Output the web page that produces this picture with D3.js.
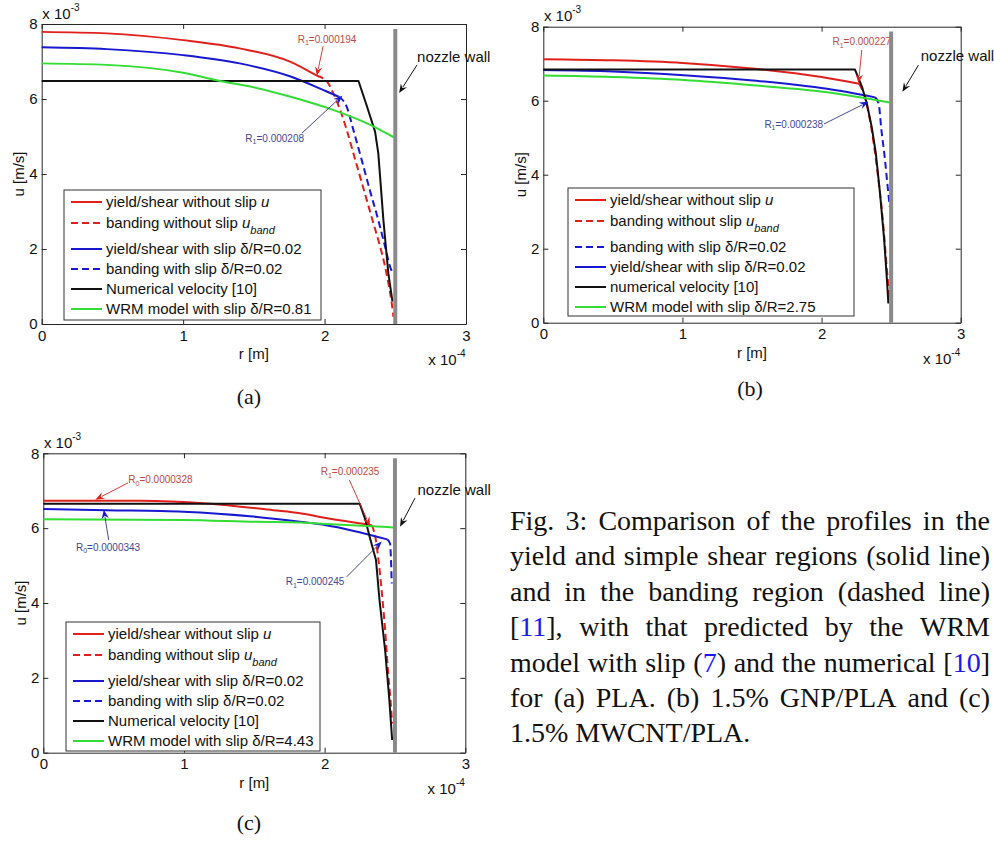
<!DOCTYPE html>
<html><head><meta charset="utf-8">
<script src="https://cdn.jsdelivr.net/npm/d3@7"></script>
<style>body{margin:0;background:#fff}svg{display:block}</style>
</head><body>
<svg id="fig" width="994" height="841"></svg>
<script>
// ---------------- DATA (r in 1e-4 m, u in 1e-3 m/s) ----------------
const xTicks = [0, 1, 2, 3];
const yTicks = [0, 2, 4, 6, 8];
const wallR = 2.5, wallTop = 7.87;

// Panel (a) PLA
const a_yieldNoSlip = [[0,7.79],[0.46,7.75],[1.0,7.57],[1.4,7.35],[1.76,6.99],[1.945,6.62]];
const a_bandNoSlip  = [[1.945,6.62],[2.02,6.45],[2.062,6.15],[2.11,5.71],[2.157,5.17],[2.204,4.55],[2.251,3.93],[2.298,3.31],[2.345,2.69],[2.393,2.06],[2.428,1.53],[2.451,1.09],[2.475,0.55],[2.487,0.19]];
const a_yieldSlip   = [[0,7.38],[0.46,7.33],[1.0,7.17],[1.4,6.95],[1.76,6.60],[2.015,6.20],[2.10,6.06]];
const a_bandSlip    = [[2.10,6.06],[2.157,5.79],[2.204,5.17],[2.263,4.37],[2.32,3.57],[2.38,2.77],[2.428,2.06],[2.463,1.53],[2.482,1.35]];
const a_numerical   = [[0,6.48],[2.24,6.48],[2.30,5.80],[2.357,5.13],[2.38,4.55],[2.416,2.77],[2.451,1.35],[2.475,0.73],[2.48,0.6]];
const a_wrm         = [[0,6.95],[0.46,6.91],[1.0,6.70],[1.26,6.48],[1.5,6.31],[1.76,6.06],[2.06,5.71],[2.30,5.35],[2.49,4.98]];

// Panel (b) 1.5% GNP/PLA
const b_yieldNoSlip = [[0,7.12],[0.5,7.09],[1.0,7.02],[1.5,6.87],[2.0,6.64],[2.27,6.46]];
const b_bandNoSlip  = [[2.27,6.46],[2.31,6.11],[2.36,5.21],[2.40,4.13],[2.44,2.78],[2.47,1.42],[2.49,0.61]];
const b_bandSlip    = [[2.385,6.09],[2.41,5.93],[2.43,5.21],[2.456,4.40],[2.47,3.86],[2.49,3.14]];
const b_yieldSlip   = [[0,6.83],[0.5,6.79],[1.01,6.69],[1.53,6.54],[2.04,6.32],[2.385,6.09]];
const b_numerical   = [[0,6.84],[2.24,6.84],[2.29,6.38],[2.325,5.93],[2.36,5.30],[2.39,4.58],[2.42,3.50],[2.45,2.24],[2.47,1.15],[2.48,0.52]];
const b_wrm         = [[0,6.68],[0.5,6.64],[1.01,6.56],[1.53,6.41],[2.04,6.23],[2.49,5.95]];

// Panel (c) 1.5% MWCNT/PLA
const c_yieldNoSlip = [[0,6.73],[0.69,6.73],[1.16,6.66],[1.635,6.48],[1.825,6.40],[2.01,6.27],[2.335,6.08]];
const c_bandNoSlip  = [[2.335,6.08],[2.36,5.77],[2.38,5.24],[2.405,4.35],[2.43,3.28],[2.45,2.21],[2.47,1.32],[2.48,0.78]];
const c_yieldSlip   = [[0,6.51],[0.45,6.48],[0.995,6.44],[1.52,6.30],[1.825,6.17],[2.01,6.08],[2.445,5.70]];
const c_bandSlip    = [[2.445,5.70],[2.465,5.59],[2.477,4.52]];
const c_numerical   = [[0,6.65],[2.25,6.65],[2.29,6.22],[2.32,5.77],[2.365,5.15],[2.39,4.08],[2.43,2.74],[2.46,1.41],[2.48,0.34]];
const c_wrm         = [[0,6.24],[0.995,6.22],[1.52,6.17],[1.825,6.15],[2.01,6.11],[2.49,6.02]];

// Legend labels: [text, kind] kind: "" normal, "i" italic, "s" italic subscript
const lblYieldNoSlip = [["yield/shear without slip ",""],["u","i"]];
const lblBandNoSlip  = [["banding without slip ",""],["u","i"],["band","s"]];
const lblYieldSlip   = [["yield/shear with slip δ/R=0.02",""]];
const lblBandSlip    = [["banding with slip  δ/R=0.02",""]];
const lblBandSlipB   = [["banding with slip δ/R=0.02",""]];
const lblNumA        = [["Numerical velocity [10]",""]];
const lblNumB        = [["numerical velocity [10]",""]];
const lblWrmA        = [["WRM model with slip δ/R=0.81",""]];
const lblWrmB        = [["WRM model with slip δ/R=2.75",""]];
const lblWrmC        = [["WRM model with slip δ/R=4.43",""]];

// Annotations (data coords): label left/center, arrow tail, arrow tip
const a_notes = [
  {kind:"red",  sym:"R", sub:"1", val:"=0.000194",  lx:1.81, ly:7.59, tx:1.99, ty:7.41, hx:1.945, hy:6.62},
  {kind:"blue", sym:"R", sub:"1", val:"=0.000208",  lx:1.44, ly:4.96, tx:1.84, ty:5.09, hx:2.126, hy:6.09},
  {kind:"wall", text:"nozzle wall", lx:2.654, ly:7.12, tx:2.654, ty:6.91, hx:2.527, hy:6.16}
];
const b_notes = [
  {kind:"red",  sym:"R", sub:"1", val:"=0.000227",  lx:2.078, ly:7.59, tx:2.289, ty:7.37, hx:2.265, hy:6.47},
  {kind:"blue", sym:"R", sub:"1", val:"=0.000238",  lx:1.589, ly:5.37, tx:2.017, ty:5.37, hx:2.336, hy:5.97},
  {kind:"wall", text:"nozzle wall", lx:2.713, ly:7.21, tx:2.696, ty:6.96, hx:2.581, hy:6.24}
];
const c_notes = [
  {kind:"red",  sym:"R", sub:"0", val:"=0.0000328", lx:0.604, ly:7.29, tx:0.602, ty:7.21, hx:0.37, hy:6.76},
  {kind:"blue", sym:"R", sub:"0", val:"=0.0000343", lx:0.232, ly:5.49, tx:0.465, ty:5.68, hx:0.43, hy:6.49},
  {kind:"red",  sym:"R", sub:"1", val:"=0.000235",  lx:1.972, ly:7.51, tx:2.175, ty:7.29, hx:2.322, hy:6.06},
  {kind:"blue", sym:"R", sub:"1", val:"=0.000245",  lx:1.723, ly:4.57, tx:2.157, ty:4.70, hx:2.406, hy:5.64},
  {kind:"wall", text:"nozzle wall", lx:2.66, ly:7.02, tx:2.642, ty:6.80, hx:2.536, hy:6.04}
];

const captionLines = [
  "Fig. 3: Comparison of the profiles in the",
  "yield and simple shear regions (solid line)",
  "and in the banding region (dashed line)",
  "[{11}], with that predicted by the WRM",
  "model with slip ({7}) and the numerical [{10}]",
  "for (a) PLA. (b) 1.5% GNP/PLA and (c)",
  "1.5% MWCNT/PLA."
];

// ---------------- STYLES / LAYOUT ----------------
const RED = "#e0201c", BLUE = "#1818d0", GREEN = "#33dd33", BLACK = "#111";
const styles = {
  redSolid:{color:RED, dash:null}, redDash:{color:RED, dash:"7,4"},
  blueSolid:{color:BLUE, dash:null}, blueDash:{color:BLUE, dash:"7,4"},
  black:{color:BLACK, dash:null, linear:true}, green:{color:GREEN, dash:null}
};
const SANS = "'Liberation Sans', Arial, sans-serif";
const SERIF = "'Liberation Serif', 'Times New Roman', serif";

const panels = [
  {left:41.7, top:24, right:466, bottom:324, tag:"(a)", tagX:249, tagY:397,
   series:[["redSolid",a_yieldNoSlip,lblYieldNoSlip],["redDash",a_bandNoSlip,lblBandNoSlip],["blueSolid",a_yieldSlip,lblYieldSlip],["blueDash",a_bandSlip,lblBandSlip],["black",a_numerical,lblNumA],["green",a_wrm,lblWrmA]],
   notes:a_notes, legend:{x:64, y:190, w:257, h:130}},
  {left:543.3, top:26.7, right:960.7, bottom:322.7, tag:"(b)", tagX:750, tagY:389,
   series:[["redSolid",b_yieldNoSlip,lblYieldNoSlip],["redDash",b_bandNoSlip,lblBandNoSlip],["blueDash",b_bandSlip,lblBandSlipB],["blueSolid",b_yieldSlip,lblYieldSlip],["black",b_numerical,lblNumB],["green",b_wrm,lblWrmB]],
   notes:b_notes, legend:{x:568, y:188, w:286, h:128}},
  {left:43.3, top:453.3, right:465.3, bottom:752.7, tag:"(c)", tagX:249, tagY:823,
   series:[["redSolid",c_yieldNoSlip,lblYieldNoSlip],["redDash",c_bandNoSlip,lblBandNoSlip],["blueSolid",c_yieldSlip,lblYieldSlip],["blueDash",c_bandSlip,lblBandSlip],["black",c_numerical,lblNumA],["green",c_wrm,lblWrmC]],
   notes:c_notes, legend:{x:66, y:622, w:254, h:129}}
];
const legendOffsets = [12, 33, 59, 79, 99, 119];

const svg = d3.select("#fig");
svg.append("rect").attr("width",994).attr("height",841).attr("fill","#fff");

function arrow(g, x1, y1, x2, y2, lineColor, headColor, lw) {
  const dx = x2 - x1, dy = y2 - y1, L = Math.hypot(dx, dy);
  const ux = dx / L, uy = dy / L, hl = 9, hw = 3.6;
  const bx = x2 - ux*hl, by = y2 - uy*hl;
  g.append("line").attr("x1",x1).attr("y1",y1).attr("x2",bx+ux*2).attr("y2",by+uy*2)
    .attr("stroke",lineColor).attr("stroke-width",lw);
  g.append("path").attr("d",`M${x2},${y2}L${bx-uy*hw},${by+ux*hw}L${bx+ux*3},${by+uy*3}L${bx+uy*hw},${by-ux*hw}Z`)
    .attr("fill",headColor);
}

function drawPanel(p) {
  const g = svg.append("g");
  const x = d3.scaleLinear().domain([0,3]).range([p.left, p.right]);
  const y = d3.scaleLinear().domain([0,8]).range([p.bottom, p.top]);
  const fmt = d3.format("d");

  // axes (ticks inside, MATLAB style)
  const axB = g.append("g").attr("transform",`translate(0,${p.bottom})`)
    .call(d3.axisBottom(x).tickValues(xTicks).tickSizeInner(-5).tickSizeOuter(0).tickPadding(6).tickFormat(fmt));
  const axT = g.append("g").attr("transform",`translate(0,${p.top})`)
    .call(d3.axisTop(x).tickValues(xTicks).tickSizeInner(-5).tickSizeOuter(0).tickFormat(""));
  const axL = g.append("g").attr("transform",`translate(${p.left},0)`)
    .call(d3.axisLeft(y).tickValues(yTicks).tickSizeInner(-5).tickSizeOuter(0).tickPadding(4).tickFormat(fmt));
  const axR = g.append("g").attr("transform",`translate(${p.right},0)`)
    .call(d3.axisRight(y).tickValues(yTicks).tickSizeInner(-5).tickSizeOuter(0).tickFormat(""));
  [axB, axT, axL, axR].forEach(a => {
    a.select(".domain").attr("stroke","#262626");
    a.selectAll(".tick line").attr("stroke","#262626");
    a.selectAll(".tick text").attr("fill","#111").style("font-family",SANS).style("font-size","15px");
  });

  // multipliers
  const m1 = g.append("text").attr("x",p.left+0.6).attr("y",p.top-5.5)
    .style("font-family",SANS).style("font-size","15px").attr("fill","#111");
  m1.append("tspan").text("x 10");
  m1.append("tspan").attr("dy",-8).style("font-size","10px").text("-3");
  const m2 = g.append("text").attr("x",p.right-37.7).attr("y",p.bottom+41)
    .style("font-family",SANS).style("font-size","15px").attr("fill","#111");
  m2.append("tspan").text("x 10");
  m2.append("tspan").attr("dy",-8).style("font-size","10px").text("-4");

  // axis labels
  g.append("text").attr("x",(p.left+p.right)/2).attr("y",p.bottom+30).attr("dy","0.35em")
    .attr("text-anchor","middle").style("font-family",SANS).style("font-size","15px").attr("fill","#111").text("r [m]");
  g.append("text").attr("transform",`translate(${p.left-23},${(p.top+p.bottom)/2}) rotate(-90)`).attr("dy","0.35em")
    .attr("text-anchor","middle").style("font-family",SANS).style("font-size","15px").attr("fill","#111").text("u [m/s]");

  // curves
  p.series.forEach(([key, data]) => {
    const st = styles[key];
    const line = d3.line().x(d => x(d[0])).y(d => y(d[1]))
      .curve(st.linear ? d3.curveLinear : d3.curveMonotoneX);
    g.append("path").datum(data).attr("d",line).attr("fill","none")
      .attr("stroke",st.color).attr("stroke-width",2)
      .attr("stroke-dasharray",st.dash).attr("stroke-linejoin","round");
  });

  // annotations
  p.notes.forEach(n => {
    if (n.kind === "wall") {
      g.append("text").attr("x",x(n.lx)).attr("y",y(n.ly)+5.4)
        .style("font-family",SANS).style("font-size","15px").attr("fill","#111").text(n.text);
      arrow(g, x(n.tx), y(n.ty), x(n.hx), y(n.hy), "#111", "#111", 1);
    } else {
      const tc = n.kind === "red" ? "#c04a44" : "#45469a";
      const lc = n.kind === "red" ? "#d02a26" : "#34347e";
      const hc = n.kind === "red" ? RED : BLUE;
      arrow(g, x(n.tx), y(n.ty), x(n.hx), y(n.hy), lc, hc, 0.9);
      const t = g.append("text").attr("x",x(n.lx)).attr("y",y(n.ly)+3.5)
        .style("font-family",SANS).style("font-size","10px").attr("fill",tc);
      t.append("tspan").text(n.sym);
      t.append("tspan").attr("dy",2.5).style("font-size","7px").text(n.sub);
      t.append("tspan").attr("dy",-2.5).text(n.val);
    }
  });

  // nozzle wall
  g.append("line").attr("x1",x(wallR)).attr("x2",x(wallR)).attr("y1",y(wallTop)).attr("y2",y(0))
    .attr("stroke","#8a8a8a").attr("stroke-width",4);

  // legend
  const L = p.legend;
  const lg = g.append("g");
  lg.append("rect").attr("x",L.x).attr("y",L.y).attr("width",L.w).attr("height",L.h)
    .attr("fill","#fff").attr("stroke","#333").attr("stroke-width",1);
  p.series.forEach(([key, , label], i) => {
    const st = styles[key], cy = L.y + legendOffsets[i];
    lg.append("line").attr("x1",L.x+7).attr("x2",L.x+38).attr("y1",cy).attr("y2",cy)
      .attr("stroke",st.color).attr("stroke-width",2).attr("stroke-dasharray",st.dash);
    const t = lg.append("text").attr("x",L.x+42).attr("y",cy+5.2)
      .style("font-family",SANS).style("font-size","15px").attr("fill","#111");
    label.forEach(([txt, kind]) => {
      const ts = t.append("tspan").text(txt);
      if (kind === "i") ts.style("font-style","italic");
      if (kind === "s") ts.style("font-style","italic").style("font-size","11px").attr("dy",6);
    });
  });

  // panel tag
  svg.append("text").attr("x",p.tagX).attr("y",p.tagY).attr("dy","0.32em").attr("text-anchor","middle")
    .style("font-family",SERIF).style("font-size","22px").attr("fill","#111").text(p.tag);
}
panels.forEach(drawPanel);

// ---------------- CAPTION (justified) ----------------
const capX = 510, capW = 480, capY0 = 530, capDY = 35.4, capFS = 28;
captionLines.forEach((line, i) => {
  const words = line.split(" ");
  const nodes = words.map(w => {
    const t = svg.append("text").attr("y",capY0 + i*capDY)
      .style("font-family",SERIF).style("font-size",capFS+"px").attr("fill","#111");
    w.split(/(\{[^}]*\})/).filter(s => s.length).forEach(s => {
      if (s[0] === "{") t.append("tspan").attr("fill","#1a1aee").text(s.slice(1,-1));
      else t.append("tspan").text(s);
    });
    return t;
  });
  const widths = nodes.map(n => n.node().getComputedTextLength());
  const total = d3.sum(widths);
  const last = i === captionLines.length - 1;
  const gap = last ? capFS*0.25 : (capW - total) / (words.length - 1);
  let cx = capX;
  nodes.forEach((n, k) => { n.attr("x", cx); cx += widths[k] + gap; });
});
</script>
</body></html>
